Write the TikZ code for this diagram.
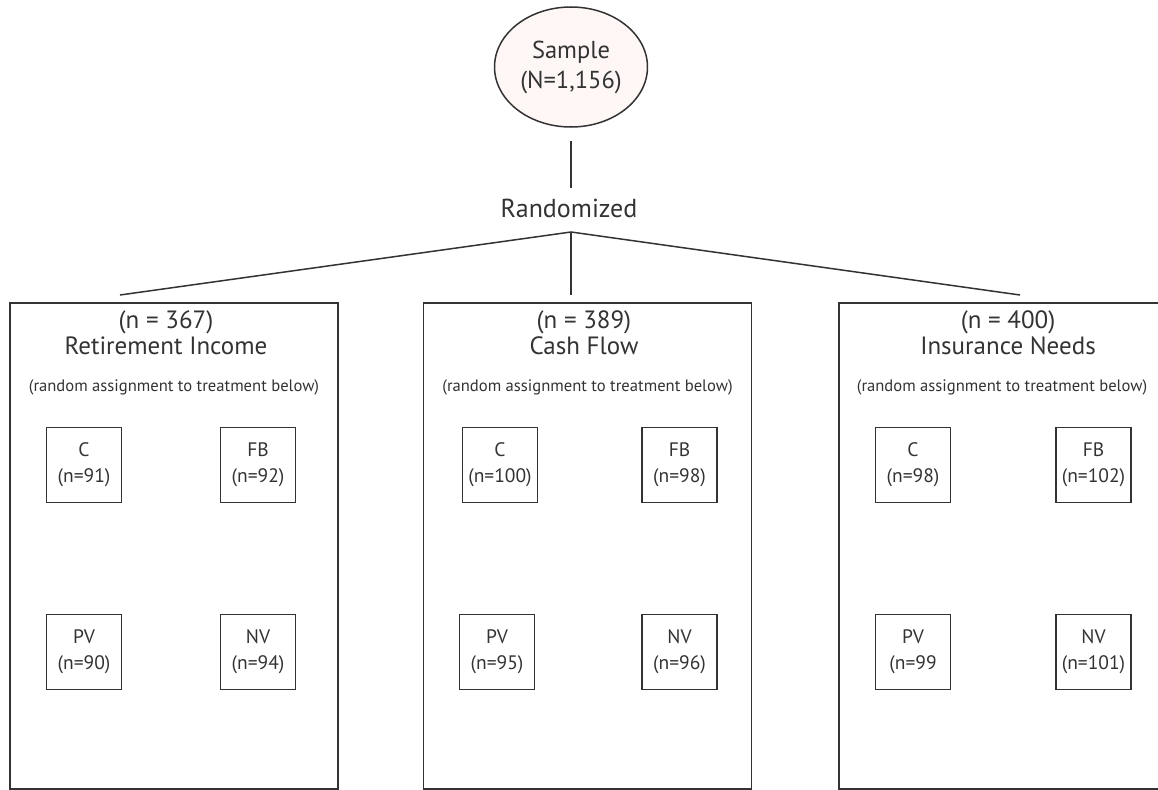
\documentclass[tikz,border=0pt]{standalone}
\usepackage{fontspec}
\setmainfont{PT Sans}
\usepackage{tikz}
\usetikzlibrary{shapes}
\usetikzlibrary{positioning}
\definecolor{ink}{rgb}{0.2,0.2,0.2}
\definecolor{shell}{rgb}{0.995,0.97,0.96}

\begin{document}
\begin{tikzpicture}[x=1pt,y=-1pt,
	color=ink,
	line width=1.5pt,
  group/.style={draw,rectangle,minimum width=328pt,minimum height=486pt,anchor=north},
  title/.style={align=center,font=\fontsize{25}{26}\selectfont,inner sep=0pt,anchor=north},
  note/.style={font=\fontsize{16.6}{18}\selectfont,inner sep=0pt},
  arm/.style={draw,rectangle,minimum size=75pt,inner sep=0pt,align=center,
    font=\fontsize{19.5}{26}\selectfont}]
  \useasboundingbox (0,0) rectangle (1158,789);
  \clip (0,0) rectangle (1158,789);

  \node[ellipse,draw,fill=shell,minimum width=148pt,minimum height=120pt,
    align=center,font=\fontsize{24.5}{30}\selectfont] (sample) at (571,67) {Sample\\(N=1,156)};
  \node[inner sep=0pt,font=\fontsize{26}{26}\selectfont] (rand) at (569,208) {Randomized};
  \coordinate (fork) at (571,232);

  % the three modules
  \node[group] (g1) at (174,302) {};
  \node[group] (g2) at (587.5,302) {};
  \node[group] (g3) at (1003,302) {};
  \node[title] (t1) at (166,310) {(n = 367)\\Retirement Income};
  \node[title] (t2) at (584,310) {(n = 389)\\Cash Flow};
  \node[title] (t3) at (1008,310) {(n = 400)\\Insurance Needs};
  \node[note] (n1) at (174,387) {(random assignment to treatment below)};
  \node[note] (n2) at (587.5,387) {(random assignment to treatment below)};
  \node[note] (n3) at (1002,387) {(random assignment to treatment below)};

  % treatments
  \node[arm] (c1) at (84,465) {C\\(n=91)};
  \node[arm] (fb1) at (258,465) {FB\\(n=92)};
  \node[arm] (pv1) at (84,652) {PV\\(n=90)};
  \node[arm] (nv1) at (258,652) {NV\\(n=94)};
  \node[arm] (c2) at (500,465) {C\\(n=100)};
  \node[arm] (fb2) at (679.5,465) {FB\\(n=98)};
  \node[arm] (pv2) at (497,652) {PV\\(n=95)};
  \node[arm] (nv2) at (679.5,652) {NV\\(n=96)};
  \node[arm] (c3) at (913,465) {C\\(n=98)};
  \node[arm] (fb3) at (1093.5,465) {FB\\(n=102)};
  \node[arm] (pv3) at (913,652) {PV\\(n=99};
  \node[arm] (nv3) at (1093.5,652) {NV\\(n=101)};

  % branches
  \coordinate (e1) at (120,295);
  \coordinate (e2) at (571,295);
  \coordinate (e3) at (1020,295);
  \draw[shorten <=13pt,shorten >=10pt] (sample.south) -- (sample.south |- rand.north);
  \draw (fork) -- (e1);
  \draw (fork) -- (e2);
  \draw (fork) -- (e3);

\end{tikzpicture}
\end{document}
